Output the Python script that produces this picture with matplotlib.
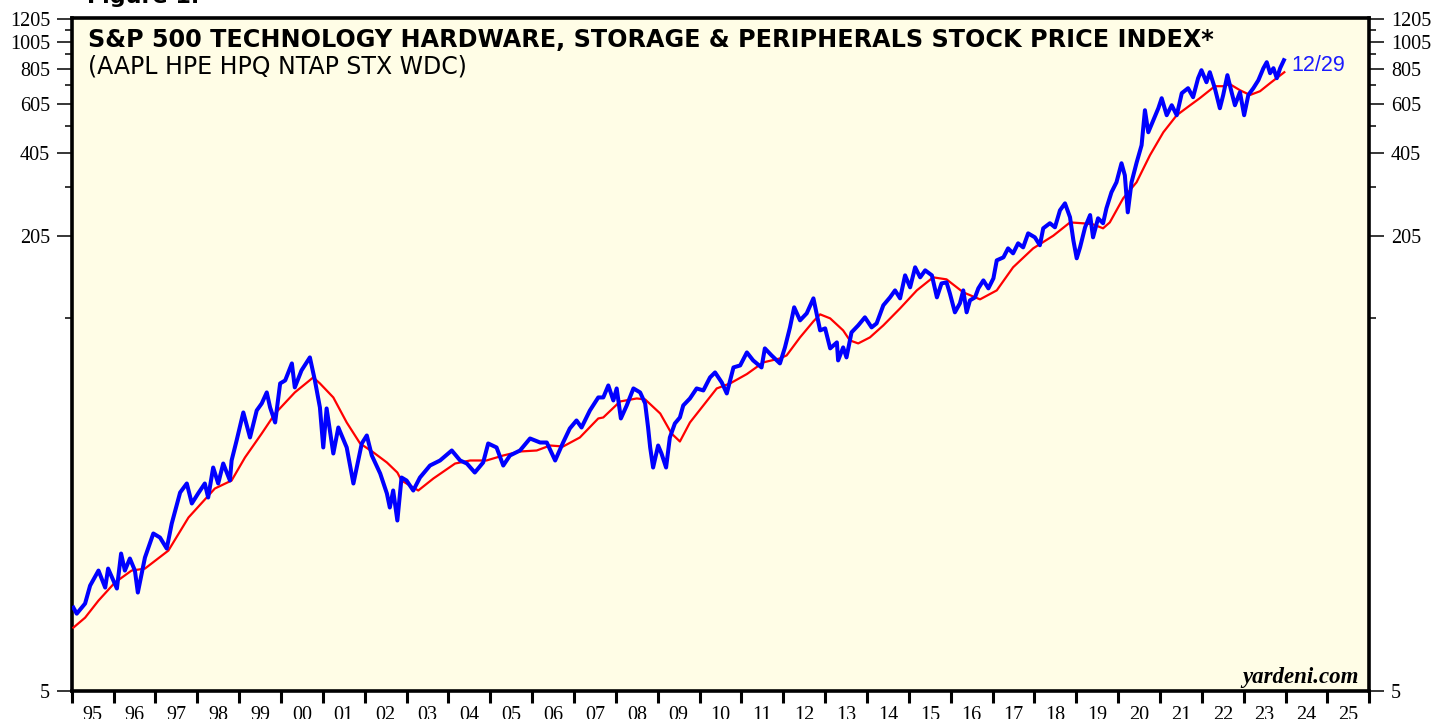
import matplotlib
matplotlib.use("Agg")
import matplotlib.pyplot as plt
from matplotlib.ticker import FixedLocator, FixedFormatter, NullFormatter

# ---------------- data ----------------
index_years = [
    1995.04, 1995.12, 1995.32, 1995.44, 1995.64, 1995.80, 1995.87, 1996.08, 1996.18, 1996.27,
    1996.39, 1996.51, 1996.58, 1996.75, 1996.95, 1997.11, 1997.27, 1997.39, 1997.59, 1997.75,
    1997.87, 1998.02, 1998.18, 1998.26, 1998.38, 1998.50, 1998.62, 1998.78, 1998.82, 1998.94,
    1999.10, 1999.26, 1999.42, 1999.54, 1999.66, 1999.74, 1999.86, 1999.98, 2000.10, 2000.26,
    2000.33, 2000.49, 2000.69, 2000.81, 2000.93, 2001.01, 2001.09, 2001.25, 2001.37, 2001.57,
    2001.73, 2001.93, 2002.05, 2002.17, 2002.37, 2002.53, 2002.60, 2002.68, 2002.78, 2002.88,
    2003.00, 2003.16, 2003.32, 2003.56, 2003.80, 2004.08, 2004.28, 2004.44, 2004.63, 2004.83,
    2004.95, 2005.15, 2005.31, 2005.47, 2005.71, 2005.95, 2006.19, 2006.35, 2006.55, 2006.74,
    2006.90, 2007.06, 2007.18, 2007.38, 2007.58, 2007.70, 2007.82, 2007.94, 2008.02, 2008.12,
    2008.26, 2008.42, 2008.58, 2008.70, 2008.77, 2008.82, 2008.89, 2009.01, 2009.09, 2009.20,
    2009.29, 2009.41, 2009.53, 2009.61, 2009.77, 2009.93, 2010.09, 2010.25, 2010.37, 2010.53,
    2010.65, 2010.81, 2010.97, 2011.13, 2011.28, 2011.48, 2011.56, 2011.72, 2011.92, 2012.04,
    2012.16, 2012.26, 2012.40, 2012.56, 2012.72, 2012.88, 2013.00, 2013.12, 2013.28, 2013.31,
    2013.43, 2013.51, 2013.63, 2013.79, 2013.95, 2014.11, 2014.23, 2014.39, 2014.55, 2014.67,
    2014.79, 2014.91, 2015.03, 2015.15, 2015.27, 2015.39, 2015.55, 2015.67, 2015.78, 2015.90,
    2015.98, 2016.10, 2016.22, 2016.30, 2016.38, 2016.46, 2016.58, 2016.66, 2016.78, 2016.90,
    2017.02, 2017.10, 2017.26, 2017.37, 2017.49, 2017.61, 2017.73, 2017.85, 2018.01, 2018.13,
    2018.21, 2018.37, 2018.49, 2018.61, 2018.73, 2018.85, 2018.93, 2019.01, 2019.09, 2019.21,
    2019.33, 2019.40, 2019.52, 2019.64, 2019.72, 2019.84, 2019.96, 2020.08, 2020.16, 2020.23,
    2020.32, 2020.44, 2020.56, 2020.64, 2020.72, 2020.84, 2020.96, 2021.04, 2021.16, 2021.28,
    2021.40, 2021.52, 2021.67, 2021.79, 2021.91, 2021.99, 2022.11, 2022.19, 2022.31, 2022.43,
    2022.51, 2022.61, 2022.71, 2022.79, 2022.91, 2023.01, 2023.11, 2023.23, 2023.35, 2023.47,
    2023.55, 2023.63, 2023.71, 2023.79, 2023.87, 2023.96,
]
index_values = [
    9.86, 9.38, 10.19, 11.80, 13.34, 11.61, 13.56, 11.52, 15.33, 13.34,
    14.72, 13.34, 11.15, 14.84, 18.06, 17.47, 15.97, 19.59, 25.24, 27.17,
    23.08, 25.04, 27.17, 24.23, 30.96, 27.17, 31.99, 27.84, 32.79, 38.61,
    48.55, 39.57, 49.34, 52.25, 57.18, 50.57, 44.73, 61.54, 63.06, 72.47,
    59.56, 68.43, 76.11, 63.06, 50.57, 36.47, 50.16, 34.72, 42.94, 36.47,
    27.17, 37.68, 40.22, 34.16, 29.48, 25.04, 22.33, 25.66, 20.08, 28.53,
    27.84, 25.66, 28.53, 31.47, 32.79, 35.58, 32.79, 31.99, 29.72, 32.26,
    37.68, 36.47, 31.47, 34.16, 35.58, 39.25, 37.98, 37.98, 32.79, 37.98,
    42.59, 45.47, 42.94, 49.34, 54.88, 54.88, 60.53, 53.55, 59.07, 46.22,
    51.40, 59.07, 57.17, 52.25, 42.94, 36.47, 30.96, 37.06, 34.72, 30.96,
    39.57, 44.37, 46.60, 51.40, 54.43, 59.07, 58.11, 64.63, 67.32, 62.04,
    56.70, 70.13, 71.28, 79.28, 74.26, 70.13, 81.92, 77.36, 72.46, 82.60,
    97.27, 114.6, 103.0, 109.1, 123.3, 94.91, 96.48, 81.92, 86.04, 74.26,
    82.60, 76.11, 93.37, 98.87, 105.6, 97.27, 100.5, 116.5, 124.3, 131.6,
    123.3, 148.8, 134.9, 158.9, 146.4, 155.0, 148.8, 124.3, 139.3, 140.5,
    128.4, 110.0, 118.4, 131.6, 110.0, 121.3, 124.3, 133.8, 142.8, 133.8,
    145.2, 168.2, 172.4, 185.5, 178.1, 193.3, 187.0, 209.7, 203.0, 190.3,
    218.5, 227.8, 220.3, 253.1, 267.9, 239.2, 198.1, 171.0, 187.0, 220.3,
    243.5, 203.0, 237.1, 227.8, 257.3, 293.3, 318.3, 371.8, 336.8, 249.0,
    318.3, 373.3, 430.8, 573.3, 478.9, 528.3, 582.7, 632.5, 550.5, 597.2,
    550.5, 659.0, 686.4, 637.8, 744.8, 795.1, 720.8, 782.2, 686.4, 582.7,
    649.3, 763.6, 664.4, 597.2, 664.4, 550.5, 649.3, 686.4, 732.7, 808.2,
    848.8, 775.9, 808.2, 744.8, 808.2, 862.8,
]

ma_years = [
    1995.04, 1995.32, 1995.64, 1996.03, 1996.43, 1996.75, 1997.31, 1997.79, 1998.42, 1998.82,
    1999.14, 1999.54, 1999.86, 2000.33, 2000.77, 2000.93, 2001.25, 2001.57, 2001.89, 2002.21,
    2002.53, 2002.78, 2002.88, 2003.28, 2003.64, 2004.16, 2004.52, 2004.91, 2005.31, 2005.71,
    2006.11, 2006.43, 2006.74, 2007.14, 2007.58, 2007.70, 2008.10, 2008.50, 2008.70, 2009.06,
    2009.33, 2009.53, 2009.77, 2010.09, 2010.41, 2010.73, 2011.13, 2011.52, 2011.92, 2012.08,
    2012.40, 2012.72, 2012.88, 2013.12, 2013.43, 2013.59, 2013.79, 2014.07, 2014.39, 2014.79,
    2015.19, 2015.58, 2015.90, 2016.30, 2016.70, 2017.10, 2017.49, 2017.97, 2018.45, 2018.85,
    2019.17, 2019.40, 2019.64, 2019.80, 2020.12, 2020.44, 2020.76, 2021.08, 2021.40, 2021.72,
    2021.95, 2022.31, 2022.51, 2022.67, 2022.91, 2023.15, 2023.39, 2023.63, 2023.97,
]
ma_values = [
    8.37, 9.08, 10.44, 12.09, 13.34, 13.56, 15.71, 20.58, 26.08, 27.84,
    33.61, 40.88, 48.13, 57.17, 64.63, 61.54, 54.88, 44.73, 37.68, 35.01,
    32.26, 29.72, 27.84, 25.66, 28.30, 31.99, 32.79, 32.79, 34.16, 35.29,
    35.58, 37.06, 36.76, 39.57, 46.22, 46.60, 53.11, 54.43, 53.99, 48.13,
    40.88, 38.29, 44.73, 51.40, 59.07, 61.54, 66.43, 73.06, 75.48, 77.36,
    89.63, 102.2, 108.2, 104.7, 94.91, 87.46, 85.33, 89.63, 98.87, 113.6,
    131.6, 146.4, 144.0, 129.5, 122.3, 131.6, 158.9, 185.5, 205.7, 229.3,
    227.6, 225.7, 218.5, 229.3, 279.2, 318.3, 397.0, 479.0, 550.5, 597.2,
    632.5, 697.7, 697.7, 709.3, 675.2, 649.3, 669.7, 715.2, 782.2,
]

year_ticks = list(range(1995, 2027))
year_labels = ["95", "96", "97", "98", "99", "00", "01", "02", "03", "04", "05",
               "06", "07", "08", "09", "10", "11", "12", "13", "14", "15", "16",
               "17", "18", "19", "20", "21", "22", "23", "24", "25"]
y_major = [5, 205, 405, 605, 805, 1005, 1205]
y_minor = [105, 305, 505, 705, 905, 1105]

title = "S&P 500 TECHNOLOGY HARDWARE, STORAGE & PERIPHERALS STOCK PRICE INDEX*"
subtitle = "(AAPL HPE HPQ NTAP STX WDC)"
last_date = "12/29"

# ---------------- figure ----------------
sans = ["Liberation Sans", "DejaVu Sans"]
wide = ["DejaVu Sans"]
serif = ["Liberation Serif", "DejaVu Serif"]

fig = plt.figure(figsize=(14.36, 7.19), dpi=100)
fig.patch.set_facecolor("white")
ax = fig.add_axes([0.04993, 0.03936, 0.90362, 0.93519])
ax.set_facecolor("#fffde6")

ax.plot(ma_years, ma_values, color="#ff0000", lw=1.6, zorder=3, solid_joinstyle="round")
ax.plot(index_years, index_values, color="#0000ff", lw=2.9, zorder=4, solid_joinstyle="round")

ax.set_yscale("log")
ax.set_ylim(5, 1215)
ax.set_xlim(1995, 2026)

for s in ax.spines.values():
    s.set_linewidth(2.6)
    s.set_color("black")

# y axis
ax.yaxis.set_major_locator(FixedLocator(y_major))
ax.yaxis.set_major_formatter(FixedFormatter([str(v) for v in y_major]))
ax.yaxis.set_minor_locator(FixedLocator(y_minor))
ax.yaxis.set_minor_formatter(NullFormatter())
ax.tick_params(axis="y", which="major", direction="out", length=11, width=1.1,
               left=True, right=True, labelleft=True, labelright=True, pad=4.5,
               labelsize=14.5)
ax.tick_params(axis="y", which="minor", direction="out", length=5, width=1.1,
               left=True, right=True)

# x axis
ax.xaxis.set_major_locator(FixedLocator(year_ticks))
ax.xaxis.set_major_formatter(NullFormatter())
ax.xaxis.set_minor_locator(FixedLocator([y + 0.5 for y in year_ticks[:-1]]))
ax.xaxis.set_minor_formatter(FixedFormatter(year_labels))
ax.tick_params(axis="x", which="major", direction="out", length=8.6, width=2.2)
ax.tick_params(axis="x", which="minor", length=0, pad=11, labelsize=14.5)

for lab in ax.get_yticklabels() + ax.get_xticklabels(minor=True):
    lab.set_fontfamily(serif)

# texts
ax.text(0.01256, 0.9578, title, transform=ax.transAxes, fontsize=17.2,
        fontweight="bold", family=wide, ha="left", va="baseline")
ax.text(0.01256, 0.9172, subtitle, transform=ax.transAxes, fontsize=17.0,
        family=wide, ha="left", va="baseline")
ax.text(0.9402, 0.9216, last_date, transform=ax.transAxes, fontsize=15.5,
        family=sans, color="#1a1aff", ha="left", va="baseline")
ax.text(0.9915, 0.011, "yardeni.com", transform=ax.transAxes, fontsize=16.5,
        family=serif, fontweight="bold", fontstyle="italic", ha="right", va="baseline")
fig.text(0.0606, 0.9958, "Figure 1.", fontsize=16, fontweight="bold",
         family=wide, ha="left", va="baseline")

fig.savefig("out.png", dpi=100)
